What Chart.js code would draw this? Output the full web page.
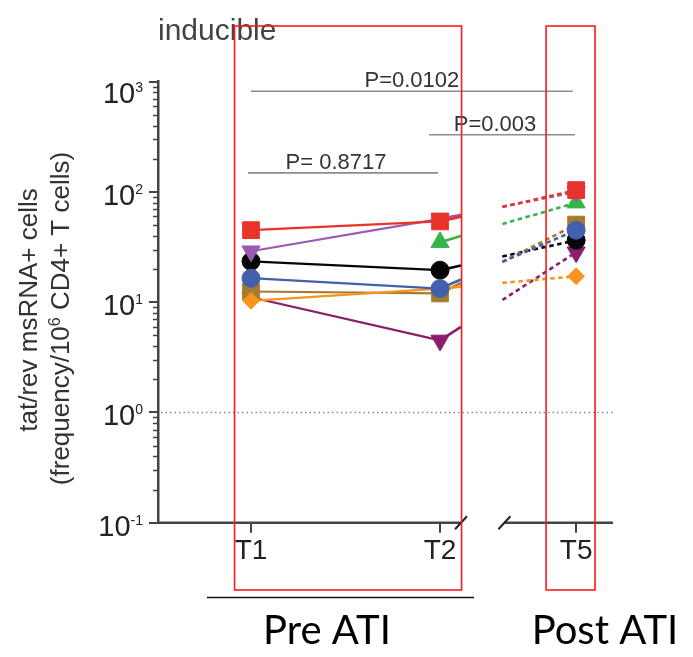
<!DOCTYPE html>
<html>
<head>
<meta charset="utf-8">
<script src="https://cdn.jsdelivr.net/npm/chart.js@4.4.1/dist/chart.umd.min.js"></script>
<style>
  html, body { margin: 0; padding: 0; background: #fff; }
  #wrap { width: 693px; height: 657px; }
</style>
</head>
<body>
<div id="wrap"><canvas id="chart" width="693" height="657"></canvas></div>
<script>
// Sampling time points on the broken x axis
const timeLabels = ['T1', 'T2', 'T5'];
const timePositions = [1, 2, 2.72];

// Inducible tat/rev msRNA+ cells per 10^6 CD4+ T cells, one array per participant
const redSquare      = [45, 54, 104];
const blueCircle     = [16.5, 13.3, 45];
const orangeDiamond  = [10.3, 13.3, 17.2];
const brownSquare    = [12.5, 12, 50.6];
const purpleTriangle = [29, 57, 100];
const blackCircle    = [23.5, 19.5, 36.5];
const maroonTriangle = [11.1, 4.5, 28.4];
const greenTriangle  = [null, 35, 80];

// Decades labelled on the log axis
const yTickExponents = [-1, 0, 1, 2, 3];

// Pairwise comparisons shown above the data
const comparisonLabels = ['P=0.0102', 'P=0.003', 'P= 0.8717'];
const comparisonFrom   = [1, 1.942, 0.984];
const comparisonTo     = [2.702, 2.714, 1.989];
const comparisonLevel  = [818, 330, 149];

// Axis layout
const X_MIN = 0.508, X_MAX = 2.915;
const BREAK_FROM = 2.111, BREAK_TO = 2.33;
const FONT = "'Liberation Sans', Arial, sans-serif";

// listed top-most first
const series = [
  { data: redSquare,      color: '#e8332b', style: 'rect',     radius: 11.8, rotation: 0 },
  { data: blueCircle,     color: '#4261ad', style: 'circle',   radius: 9,    rotation: 0 },
  { data: orangeDiamond,  color: '#f7941d', style: 'rectRot',  radius: 8.4,  rotation: 0 },
  { data: brownSquare,    color: '#a67b2f', style: 'rect',     radius: 11.8, rotation: 0 },
  { data: purpleTriangle, color: '#9b58b5', style: 'triangle', radius: 10.5, rotation: 180 },
  { data: blackCircle,    color: '#060606', style: 'circle',   radius: 9,    rotation: 0 },
  { data: maroonTriangle, color: '#8a1d6d', style: 'triangle', radius: 10.5, rotation: 180 },
  { data: greenTriangle,  color: '#36b44a', style: 'triangle', radius: 10.5, rotation: 0 }
];

// Segment T2 -> T5: solid up to the axis break, blank across it, dashed after it
function breakDash(ctx) {
  const xs = ctx.chart.scales.x;
  const a = ctx.p0, b = ctx.p1;
  const dx = b.x - a.x;
  const len = Math.hypot(dx, b.y - a.y);
  const k = len / dx;
  const solid = Math.max(0, (xs.getPixelForValue(BREAK_FROM) - a.x) * k);
  const gap = (xs.getPixelForValue(BREAK_TO) - xs.getPixelForValue(BREAK_FROM)) * k;
  const pattern = [solid, gap];
  let total = solid + gap;
  while (total < len + 20) { pattern.push(4.5, 3.5); total += 8; }
  return pattern;
}

const datasets = series.map(s => ({
  data: timePositions.map((x, i) => ({ x: x, y: s.data[i] })),
  borderColor: s.color,
  backgroundColor: s.color,
  borderWidth: 2.2,
  pointStyle: s.style,
  pointRadius: s.radius,
  pointRotation: s.rotation,
  pointBackgroundColor: s.color,
  pointBorderColor: s.color,
  pointBorderWidth: 1,
  spanGaps: false,
  tension: 0,
  segment: {
    borderDash: ctx => (ctx.p1DataIndex === 2 ? breakDash(ctx) : undefined),
    borderWidth: ctx => (ctx.p1DataIndex === 2 ? 2.6 : undefined)
  }
}));

const decor = {
  id: 'decor',
  beforeDatasetsDraw(chart) {
    const { ctx, chartArea: a, scales: { y } } = chart;
    const py = y.getPixelForValue(1);
    ctx.save();
    ctx.strokeStyle = '#8a8a8a';
    ctx.lineWidth = 1.4;
    ctx.setLineDash([1.5, 3]);
    ctx.beginPath();
    ctx.moveTo(a.left + 3, py);
    ctx.lineTo(a.right, py);
    ctx.stroke();
    ctx.restore();
  },
  afterDraw(chart) {
    const { ctx, chartArea: a, scales: { x, y } } = chart;
    ctx.save();

    // broken x axis
    const b0 = x.getPixelForValue(BREAK_FROM), b1 = x.getPixelForValue(BREAK_TO) + 2;
    ctx.strokeStyle = '#444';
    ctx.lineWidth = 2.5;
    ctx.beginPath();
    ctx.moveTo(a.left, a.bottom); ctx.lineTo(b0, a.bottom);
    ctx.moveTo(b1, a.bottom); ctx.lineTo(a.right, a.bottom);
    ctx.stroke();
    ctx.strokeStyle = '#222';
    ctx.lineWidth = 2;
    ctx.beginPath();
    [b0, b1].forEach(cx => {
      ctx.moveTo(cx - 6, a.bottom + 6.5);
      ctx.lineTo(cx + 6, a.bottom - 6.5);
    });
    ctx.stroke();

    // minor ticks of the log axis
    ctx.strokeStyle = '#444';
    ctx.lineWidth = 1.5;
    ctx.beginPath();
    yTickExponents.slice(0, -1).forEach(e => {
      for (let m = 2; m <= 9; m++) {
        const py = Math.round(y.getPixelForValue(m * Math.pow(10, e))) + 0.5;
        ctx.moveTo(a.left - 5, py);
        ctx.lineTo(a.left, py);
      }
    });
    ctx.stroke();

    // decade labels 10^n
    ctx.fillStyle = '#222';
    ctx.textAlign = 'left';
    ctx.textBaseline = 'alphabetic';
    const right = a.left - 15;
    yTickExponents.forEach(e => {
      const py = y.getPixelForValue(Math.pow(10, e));
      const capTop = Math.max(py - 8, a.top);
      const exp = String(e);
      ctx.font = '14px ' + FONT;
      const ew = ctx.measureText(exp).width;
      ctx.fillText(exp, right - ew, capTop + 10);
      ctx.font = '29px ' + FONT;
      const bw = ctx.measureText('10').width;
      ctx.fillText('10', right - ew - bw, capTop + 20.8);
    });

    // y axis title
    ctx.fillStyle = '#333';
    ctx.save();
    ctx.translate(36.7, 310);
    ctx.rotate(-Math.PI / 2);
    ctx.font = '26px ' + FONT;
    ctx.textAlign = 'center';
    ctx.fillText('tat/rev msRNA+ cells', 0, 0);
    ctx.restore();
    ctx.save();
    ctx.translate(69, 318.5);
    ctx.rotate(-Math.PI / 2);
    ctx.textAlign = 'left';
    ctx.font = '26px ' + FONT;
    const p1 = '(frequency/10', p2 = ' CD4+ T cells)';
    const w1 = ctx.measureText(p1).width, w2 = ctx.measureText(p2).width;
    ctx.font = '16px ' + FONT;
    const ws = ctx.measureText('6').width;
    let cx = -(w1 + ws + w2) / 2;
    ctx.font = '26px ' + FONT;
    ctx.fillText(p1, cx, 0); cx += w1;
    ctx.font = '16px ' + FONT;
    ctx.fillText('6', cx, -9); cx += ws;
    ctx.font = '26px ' + FONT;
    ctx.fillText(p2, cx, 0);
    ctx.restore();

    // panel label
    ctx.fillStyle = '#444';
    ctx.font = '30px ' + FONT;
    ctx.textAlign = 'left';
    ctx.fillText('inducible', 158, 40);

    // comparison brackets
    comparisonLabels.forEach((label, i) => {
      const x0 = x.getPixelForValue(comparisonFrom[i]);
      const x1 = x.getPixelForValue(comparisonTo[i]);
      const py = y.getPixelForValue(comparisonLevel[i]);
      ctx.strokeStyle = '#8c8c8c';
      ctx.lineWidth = 1.6;
      ctx.beginPath();
      ctx.moveTo(x0, py); ctx.lineTo(x1, py);
      ctx.stroke();
      ctx.fillStyle = '#333';
      ctx.font = '22px ' + FONT;
      ctx.textAlign = 'center';
      ctx.fillText(label, (x0 + x1) / 2 - (i === 0 ? 0 : 7), py - 4);
    });

    // treatment phase labels
    ctx.strokeStyle = '#111';
    ctx.lineWidth = 1.5;
    ctx.beginPath();
    ctx.moveTo(207, 597.5); ctx.lineTo(474, 597.5);
    ctx.stroke();
    ctx.fillStyle = '#000';
    ctx.font = "40px Lato, 'Open Sans', sans-serif";
    ctx.textAlign = 'center';
    ctx.fillText('Pre ATI', 327, 644);
    ctx.fillText('Post ATI', 605, 644);

    // highlight frames around the compared time windows
    ctx.strokeStyle = '#ff1a1a';
    ctx.lineWidth = 1.6;
    [[0.913, 2.114], [2.561, 2.82]].forEach(([f, t]) => {
      const l = x.getPixelForValue(f), r = x.getPixelForValue(t);
      ctx.strokeRect(l, 26, r - l, 564);
    });

    ctx.restore();
  }
};

new Chart(document.getElementById('chart'), {
  type: 'line',
  data: { datasets },
  plugins: [decor],
  options: {
    responsive: false,
    devicePixelRatio: 1,
    animation: false,
    events: [],
    layout: { padding: { top: 81.7, right: 80, bottom: 0, left: 0 } },
    plugins: { legend: { display: false }, tooltip: { enabled: false } },
    scales: {
      x: {
        type: 'linear',
        min: X_MIN,
        max: X_MAX,
        afterBuildTicks: s => { s.ticks = timePositions.map(v => ({ value: v })); },
        afterFit: s => { s.height = 134.3; },
        border: { display: false },
        grid: { display: true, drawOnChartArea: false, drawTicks: true, tickLength: 10, color: '#444', lineWidth: 2 },
        ticks: {
          autoSkip: false, maxRotation: 0, padding: 2, color: '#222',
          font: { family: FONT, size: 28 },
          callback: (v, i) => timeLabels[i]
        }
      },
      y: {
        type: 'logarithmic',
        min: 0.1,
        max: 1000,
        afterBuildTicks: s => { s.ticks = yTickExponents.map(e => ({ value: Math.pow(10, e), major: true })); },
        afterFit: s => { s.width = 158; },
        border: { display: true, color: '#444', width: 2.5 },
        grid: { display: true, drawOnChartArea: false, drawTicks: true, tickLength: 9, color: '#444', lineWidth: 2 },
        ticks: { display: false }
      }
    }
  }
});
</script>
</body>
</html>
